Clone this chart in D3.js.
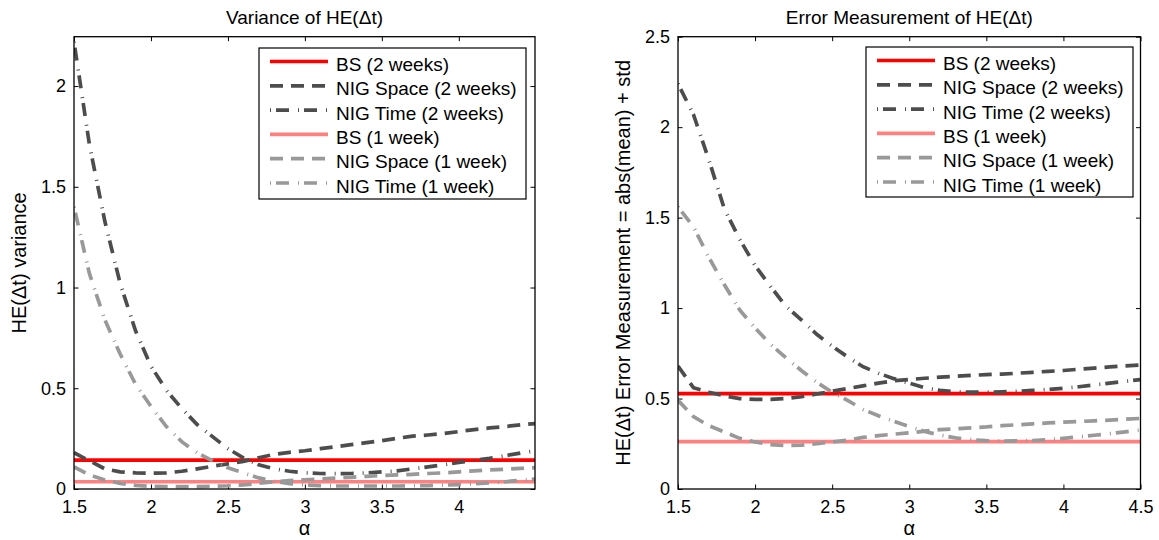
<!DOCTYPE html>
<meta charset="UTF-8">
<style>
    body { margin: 0; background: #fff; }
    svg { display: block; font-family: "Liberation Sans", Arial, sans-serif; }
    .tick text { font-size: 18px; fill: #000; }
    .tick line { stroke: #000; stroke-width: 1; }
    .box { fill: none; stroke: #000; stroke-width: 1.3; }
</style>
<body>
<div id="chart"></div>
<script src="https://d3js.org/d3.v7.min.js"></script>
<script>

// alpha grid shared by both panels
var alpha = [1.5, 1.6, 1.7, 1.8, 1.9, 2.0, 2.1, 2.2, 2.3, 2.4, 2.5, 2.6, 2.7, 2.8, 2.9, 3.0,
             3.1, 3.2, 3.3, 3.4, 3.5, 3.6, 3.7, 3.8, 3.9, 4.0, 4.1, 4.2, 4.3, 4.4, 4.5];

var legendLabels = ["BS (2 weeks)", "NIG Space (2 weeks)", "NIG Time (2 weeks)",
                    "BS (1 week)", "NIG Space (1 week)", "NIG Time (1 week)"];

// variance of HE(dt)
var varBS2 = 0.143;
var varBS1 = 0.036;
var varSpace2 = [0.18, 0.14, 0.10, 0.085, 0.08, 0.078, 0.08, 0.088, 0.10, 0.113, 0.125, 0.137, 0.155, 0.172, 0.182, 0.19,
                 0.20, 0.21, 0.22, 0.23, 0.24, 0.252, 0.262, 0.268, 0.275, 0.285, 0.295, 0.303, 0.31, 0.318, 0.325];
var varTime2  = [2.22, 1.71, 1.33, 1.02, 0.785, 0.61, 0.49, 0.40, 0.32, 0.26, 0.20, 0.155, 0.12, 0.10, 0.088, 0.08,
                 0.077, 0.076, 0.077, 0.08, 0.085, 0.09, 0.10, 0.11, 0.12, 0.132, 0.142, 0.152, 0.165, 0.178, 0.19];
var varSpace1 = [0.11, 0.07, 0.045, 0.028, 0.018, 0.013, 0.012, 0.012, 0.012, 0.014, 0.016, 0.02, 0.028, 0.036, 0.042, 0.046,
                 0.05, 0.054, 0.058, 0.063, 0.067, 0.07, 0.073, 0.077, 0.08, 0.085, 0.09, 0.095, 0.098, 0.102, 0.106];
var varTime1  = [1.40, 1.07, 0.84, 0.67, 0.52, 0.41, 0.31, 0.235, 0.18, 0.14, 0.105, 0.08, 0.055, 0.038, 0.027, 0.02,
                 0.017, 0.015, 0.015, 0.015, 0.015, 0.015, 0.016, 0.017, 0.019, 0.022, 0.026, 0.03, 0.036, 0.043, 0.05];

// error measurement = abs(mean) + std
var errBS2 = 0.527;
var errBS1 = 0.262;
var errSpace2 = [0.68, 0.56, 0.535, 0.515, 0.50, 0.495, 0.495, 0.50, 0.51, 0.525, 0.54, 0.555, 0.57, 0.585, 0.598, 0.605,
                 0.612, 0.618, 0.623, 0.628, 0.632, 0.635, 0.64, 0.645, 0.65, 0.655, 0.662, 0.668, 0.675, 0.68, 0.685];
var errTime2  = [2.24, 2.07, 1.82, 1.55, 1.38, 1.235, 1.12, 1.01, 0.935, 0.855, 0.79, 0.73, 0.676, 0.64, 0.61, 0.585,
                 0.56, 0.545, 0.538, 0.535, 0.535, 0.537, 0.54, 0.545, 0.55, 0.557, 0.565, 0.575, 0.585, 0.595, 0.605];
var errSpace1 = [0.49, 0.40, 0.35, 0.315, 0.28, 0.26, 0.245, 0.24, 0.243, 0.25, 0.26, 0.27, 0.285, 0.295, 0.303, 0.31,
                 0.32, 0.328, 0.333, 0.338, 0.343, 0.35, 0.355, 0.36, 0.365, 0.37, 0.373, 0.377, 0.381, 0.386, 0.39];
var errTime1  = [1.56, 1.45, 1.28, 1.13, 0.99, 0.89, 0.80, 0.725, 0.655, 0.59, 0.535, 0.49, 0.44, 0.405, 0.375, 0.345,
                 0.318, 0.298, 0.283, 0.273, 0.267, 0.265, 0.266, 0.268, 0.273, 0.28, 0.288, 0.297, 0.306, 0.316, 0.326];

var xTicksVar = [1.5, 2, 2.5, 3, 3.5, 4];
var xTicksErr = [1.5, 2, 2.5, 3, 3.5, 4, 4.5];
var yTicksVar = [0, 0.5, 1, 1.5, 2];
var yTicksErr = [0, 0.5, 1, 1.5, 2, 2.5];

// line styles, in legend order
var styles = [
    {color: "#ff0000", dash: null},
    {color: "#4d4d4d", dash: "13,8"},
    {color: "#4d4d4d", dash: "1,5,13,9"},
    {color: "#ff8080", dash: null},
    {color: "#999999", dash: "13,8"},
    {color: "#999999", dash: "1,5,13,9"}
];

var W = 1159, H = 540;
var svg = d3.select("#chart").append("svg")
    .attr("width", W)
    .attr("height", H);

svg.append("rect").attr("width", W).attr("height", H).attr("fill", "#fff");

function panel(p) {
    var x = d3.scaleLinear().domain(p.xDomain).range([p.left, p.right]);
    var y = d3.scaleLinear().domain(p.yDomain).range([p.bottom, p.top]);
    var g = svg.append("g");

    var clipId = "clip" + p.id;
    g.append("clipPath").attr("id", clipId)
        .append("rect")
        .attr("x", p.left).attr("y", p.top)
        .attr("width", p.right - p.left).attr("height", p.bottom - p.top);

    // axes with inward ticks on all four sides
    g.append("g")
        .attr("transform", "translate(0," + p.bottom + ")")
        .call(d3.axisBottom(x).tickValues(p.xTicks).tickFormat(d3.format("")).tickSize(-4.5).tickPadding(11).tickSizeOuter(0))
        .call(function(s) { s.select(".domain").remove(); });
    g.append("g")
        .attr("transform", "translate(0," + p.top + ")")
        .call(d3.axisTop(x).tickValues(p.xTicks).tickFormat("").tickSize(-4.5).tickSizeOuter(0))
        .call(function(s) { s.select(".domain").remove(); });
    g.append("g")
        .attr("transform", "translate(" + p.left + ",0)")
        .call(d3.axisLeft(y).tickValues(p.yTicks).tickFormat(d3.format("")).tickSize(-4.5).tickPadding(8).tickSizeOuter(0))
        .call(function(s) { s.select(".domain").remove(); });
    g.append("g")
        .attr("transform", "translate(" + p.right + ",0)")
        .call(d3.axisRight(y).tickValues(p.yTicks).tickFormat("").tickSize(-4.5).tickSizeOuter(0))
        .call(function(s) { s.select(".domain").remove(); });

    // curves
    var line = d3.line()
        .x(function(d) { return x(d[0]); })
        .y(function(d) { return y(d[1]); });

    var lines = g.append("g").attr("clip-path", "url(#" + clipId + ")");
    p.series.forEach(function(s, i) {
        var pts = Array.isArray(s)
            ? alpha.map(function(a, k) { return [a, s[k]]; })
            : [[p.xDomain[0], s], [p.xDomain[1], s]];
        lines.append("path")
            .datum(pts)
            .attr("d", line)
            .attr("fill", "none")
            .attr("stroke", styles[i].color)
            .attr("stroke-width", 3.7)
            .attr("stroke-dasharray", styles[i].dash);
    });

    g.append("rect").attr("class", "box")
        .attr("x", p.left).attr("y", p.top)
        .attr("width", p.right - p.left).attr("height", p.bottom - p.top);

    // title and labels
    g.append("text")
        .attr("x", (p.left + p.right) / 2).attr("y", 23.5)
        .attr("text-anchor", "middle").style("font-size", "19px")
        .text(p.title);
    g.append("text")
        .attr("x", (p.left + p.right) / 2).attr("y", 535)
        .attr("text-anchor", "middle").style("font-size", "20px")
        .text("α");
    g.append("text")
        .attr("transform", "translate(" + p.yLabelX + "," + (p.top + p.bottom) / 2 + ") rotate(-90)")
        .attr("text-anchor", "middle").style("font-size", "20px")
        .text(p.yLabel);

    // legend
    var lg = g.append("g");
    lg.append("rect")
        .attr("x", p.legend.x).attr("y", p.legend.y)
        .attr("width", p.legend.w).attr("height", p.legend.h)
        .attr("fill", "#fff").attr("stroke", "#000").attr("stroke-width", 1.2);
    legendLabels.forEach(function(lab, i) {
        var ly = p.legend.y + 13.5 + i * 24.3;
        lg.append("line")
            .attr("x1", p.legend.x + 11).attr("x2", p.legend.x + 69)
            .attr("y1", ly).attr("y2", ly)
            .attr("stroke", styles[i].color)
            .attr("stroke-width", 3.7)
            .attr("stroke-dasharray", styles[i].dash);
        lg.append("text")
            .attr("x", p.legend.x + 77).attr("y", ly + 9.5)
            .style("font-size", "19px")
            .text(lab);
    });
}

panel({
    id: "var",
    left: 74, right: 535, top: 36.7, bottom: 489,
    xDomain: [1.5, 4.495], yDomain: [0, 2.245],
    xTicks: xTicksVar, yTicks: yTicksVar,
    series: [varBS2, varSpace2, varTime2, varBS1, varSpace1, varTime1],
    title: "Variance of HE(Δt)",
    yLabel: "HE(Δt) variance", yLabelX: 26,
    legend: {x: 259, y: 48, w: 267, h: 151}
});

panel({
    id: "err",
    left: 678, right: 1140.5, top: 36.7, bottom: 489,
    xDomain: [1.5, 4.5], yDomain: [0, 2.5],
    xTicks: xTicksErr, yTicks: yTicksErr,
    series: [errBS2, errSpace2, errTime2, errBS1, errSpace1, errTime1],
    title: "Error Measurement of HE(Δt)",
    yLabel: "HE(Δt) Error Measurement = abs(mean) + std", yLabelX: 630,
    legend: {x: 866, y: 47, w: 267, h: 150}
});

</script>
</body>
